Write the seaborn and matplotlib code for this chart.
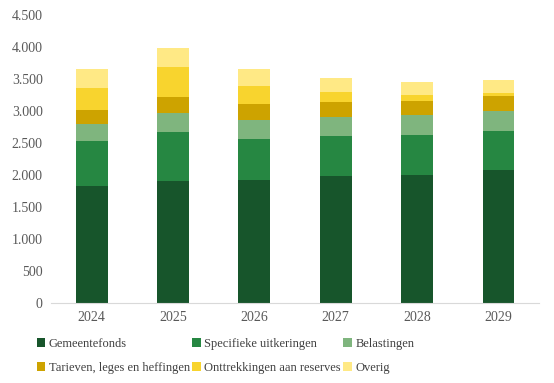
import numpy as np
import pandas as pd
import matplotlib.pyplot as plt
import seaborn as sns

sns.set_style("white")
plt.rcParams['font.family'] = ['Liberation Serif', 'DejaVu Serif']

years = ["2024", "2025", "2026", "2027", "2028", "2029"]
gemeentefonds = [1833, 1911, 1927, 1989, 2005, 2083]
specifieke = [703, 766, 640, 625, 625, 609]
belastingen = [266, 291, 297, 297, 302, 302]
tarieven = [218, 256, 250, 234, 229, 245]
onttrekkingen = [344, 468, 282, 157, 94, 47]
overig = [297, 297, 265, 218, 203, 203]

series = [
    ("Gemeentefonds", gemeentefonds, "#17552b"),
    ("Specifieke uitkeringen", specifieke, "#268742"),
    ("Belastingen", belastingen, "#7fb57e"),
    ("Tarieven, leges en heffingen", tarieven, "#cda300"),
    ("Onttrekkingen aan reserves", onttrekkingen, "#f8d42e"),
    ("Overig", overig, "#ffe985"),
]

fig = plt.figure(figsize=(5.54, 3.83), dpi=100)
ax = fig.add_axes([0.092, 0.209, 0.881, 0.752])

bottom = np.zeros(len(years))
for name, vals, col in series:
    df = pd.DataFrame({"jaar": years, "waarde": vals})
    sns.barplot(data=df, x="jaar", y="waarde", bottom=bottom, color=col,
                width=0.39, label=name, ax=ax, saturation=1, linewidth=0,
                edgecolor="none")
    bottom = bottom + np.array(vals)

ax.set_ylim(0, 4500)
ax.set_yticks(range(0, 4501, 500))
ax.set_yticklabels([f"{v:,}".replace(",", ".") for v in range(0, 4501, 500)])
ax.set_xlim(-0.5, 5.5)
ax.set_xlabel("")
ax.set_ylabel("")
ax.tick_params(axis="both", colors="#595959", labelsize=10, length=0, pad=6)
for s in ["top", "right", "left"]:
    ax.spines[s].set_visible(False)
ax.spines["bottom"].set_color("#d9d9d9")

handles, labels = ax.get_legend_handles_labels()
order = [0, 3, 1, 4, 2, 5]
ax.legend([handles[i] for i in order], [labels[i] for i in order],
          ncol=3, loc="upper left", bbox_to_anchor=(-0.039, -0.104),
          frameon=False, fontsize=9, handlelength=0.65, handleheight=0.65,
          handletextpad=0.3, columnspacing=0.2, labelspacing=0.95,
          labelcolor="#404040", borderaxespad=0)

fig.savefig("out.png", dpi=100)
